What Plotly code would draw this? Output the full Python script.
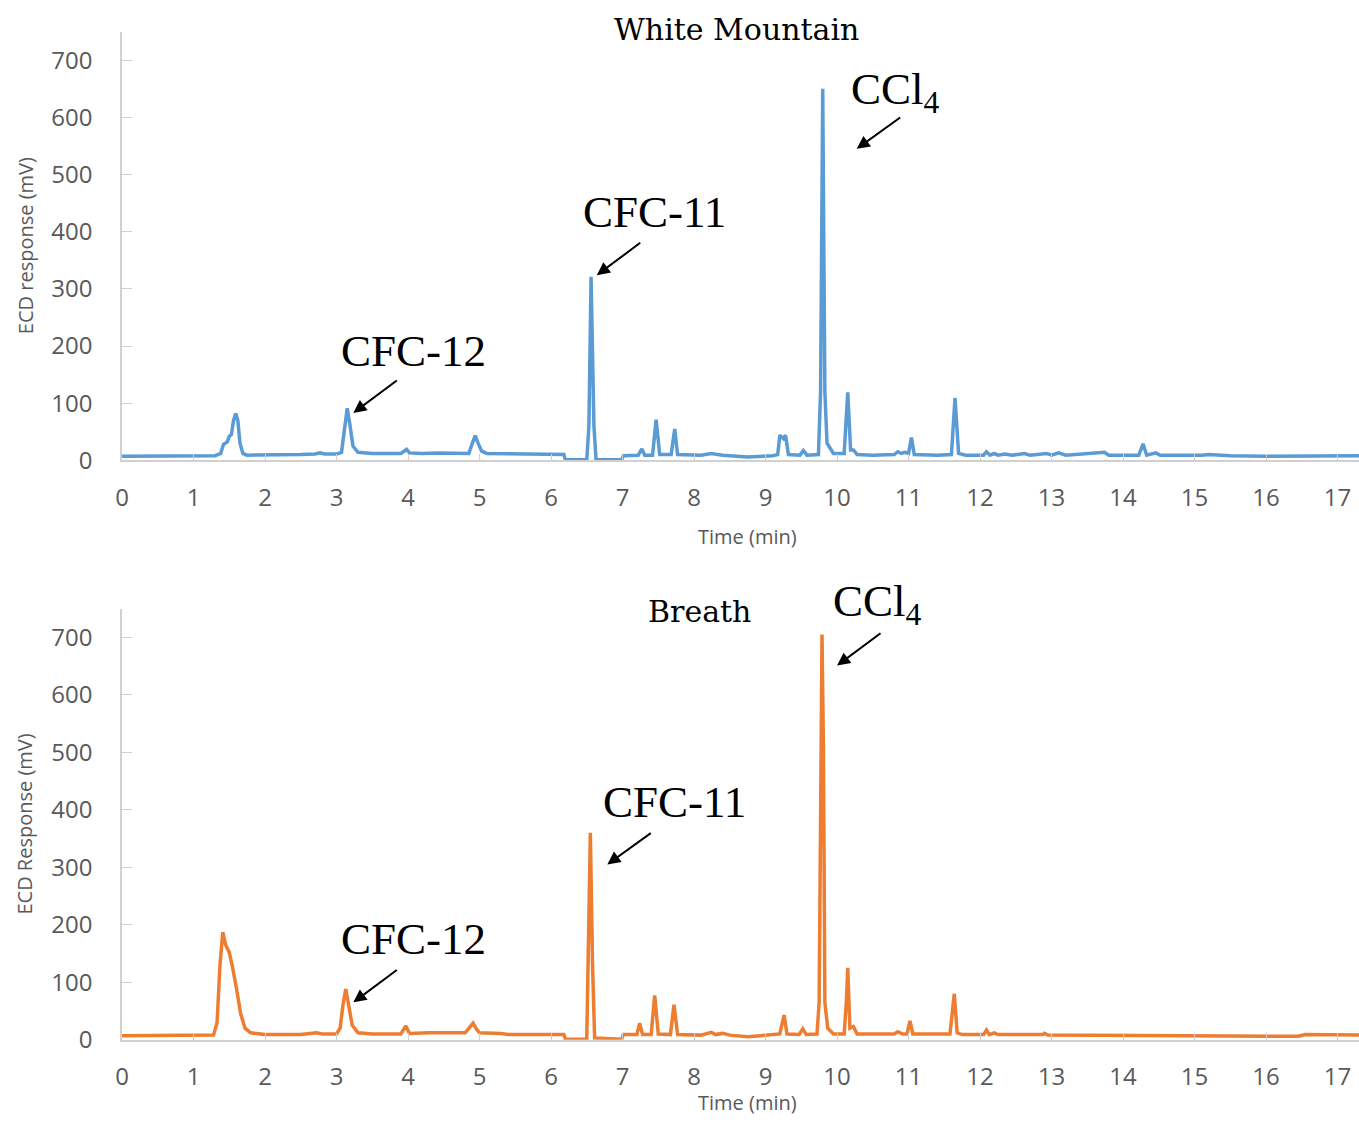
import plotly.graph_objects as go

# ---- White Mountain chromatogram (time in min, ECD response in mV) ----
wm_time = [0.00, 0.50, 1.00, 1.30, 1.38, 1.42, 1.47, 1.50, 1.53, 1.56, 1.59, 1.62, 1.65, 1.69, 1.75,
           2.00, 2.50, 2.70, 2.77, 2.83, 3.00, 3.07, 3.11, 3.15, 3.19, 3.23, 3.30, 3.50, 3.90, 3.95,
           3.98, 4.02, 4.20, 4.40, 4.60, 4.85, 4.90, 4.94, 4.98, 5.03, 5.10, 5.50, 6.00, 6.18, 6.20,
           6.50, 6.53, 6.56, 6.60, 6.63, 6.99, 7.01, 7.22, 7.27, 7.31, 7.42, 7.47, 7.52, 7.68, 7.73,
           7.77, 8.10, 8.24, 8.40, 8.75, 9.10, 9.17, 9.20, 9.25, 9.28, 9.32, 9.48, 9.53, 9.58, 9.74,
           9.77, 9.80, 9.83, 9.86, 9.95, 10.10, 10.15, 10.19, 10.23, 10.28, 10.50, 10.80, 10.85, 10.90, 10.95,
           11.00, 11.04, 11.08, 11.40, 11.60, 11.65, 11.70, 11.80, 12.05, 12.09, 12.14, 12.20, 12.25, 12.35, 12.45,
           12.62, 12.70, 12.93, 13.00, 13.10, 13.20, 13.74, 13.80, 14.22, 14.28, 14.33, 14.46, 14.52, 15.10, 15.20,
           15.50, 16.00, 17.30]
wm_resp = [7, 7, 7.5, 8, 12, 28, 32, 42, 45, 70, 82, 70, 30, 12, 9,
           9, 10, 11, 13, 11, 11, 14, 55, 91, 60, 25, 14, 12, 12, 16,
           19, 13, 12, 13, 12, 12, 30, 43, 30, 16, 12, 11, 10, 10, 1,
           1, 60, 321, 60, 1, 1, 8, 9, 20, 9, 9, 71, 10, 10, 55,
           10, 9, 12, 9, 6, 8, 10, 44, 38, 44, 10, 9, 17, 9, 10,
           120, 650, 120, 30, 12, 12, 119, 18, 18, 10, 9, 10, 15, 12, 14,
           12, 40, 10, 9, 10, 109, 12, 9, 9, 15, 9, 12, 9, 11, 9,
           12, 9, 12, 9, 13, 9, 14, 9, 9, 29, 9, 13, 9, 9, 10,
           8, 7, 8]

# ---- Breath chromatogram ----
br_time = [0.00, 1.00, 1.28, 1.33, 1.37, 1.41, 1.45, 1.50, 1.54, 1.60, 1.66, 1.72, 1.80, 2.00, 2.50,
           2.72, 2.80, 3.00, 3.05, 3.09, 3.13, 3.17, 3.22, 3.30, 3.50, 3.90, 3.97, 4.02, 4.30, 4.80,
           4.87, 4.91, 4.95, 5.00, 5.30, 5.40, 6.18, 6.20, 6.50, 6.52, 6.55, 6.58, 6.61, 6.99, 7.01,
           7.20, 7.24, 7.28, 7.40, 7.45, 7.50, 7.67, 7.72, 7.77, 8.10, 8.24, 8.30, 8.40, 8.50, 8.75,
           9.10, 9.20, 9.26, 9.30, 9.47, 9.52, 9.57, 9.72, 9.75, 9.77, 9.79, 9.81, 9.83, 9.87, 9.95,
           10.10, 10.13, 10.15, 10.18, 10.23, 10.28, 10.80, 10.85, 10.92, 10.98, 11.02, 11.06, 11.58, 11.62, 11.64,
           11.68, 11.75, 12.05, 12.09, 12.13, 12.20, 12.25, 12.88, 12.90, 12.95, 16.45, 16.55, 17.30]
br_resp = [7, 7, 8, 30, 130, 187, 165, 152, 130, 90, 45, 20, 12, 9, 9,
           12, 10, 10, 20, 60, 88, 60, 25, 12, 10, 10, 24, 11, 12, 12,
           22, 29, 20, 12, 11, 9, 9, 1, 1, 140, 360, 135, 3, 1, 9,
           9, 29, 9, 9, 77, 10, 9, 61, 9, 8, 13, 9, 11, 8, 5,
           8, 10, 43, 10, 9, 19, 9, 10, 65, 505, 705, 505, 65, 20, 10,
           10, 65, 125, 20, 23, 10, 10, 14, 10, 10, 33, 10, 10, 55, 80,
           12, 9, 9, 17, 9, 12, 9, 9, 11, 8, 6, 9, 8]

y_ticks = [0, 100, 200, 300, 400, 500, 600, 700]
x_ticks = list(range(0, 18))

BLUE = "#5B9BD5"
ORANGE = "#ED7D31"
AXIS_GRAY = "#D0D0D0"
TICK_TEXT = "#595959"

W, H = 1359, 1130
VS = 1146 / 1130  # vertical placement factor


def py(v):
    """paper y for a vertical pixel position"""
    return 1 - (v * VS) / H


def px(v):
    """paper x for a horizontal pixel position"""
    return (v - 122) / (W - 122)


fig = go.Figure()
fig.add_trace(go.Scatter(x=wm_time, y=wm_resp, mode="lines", line=dict(color=BLUE, width=3.5),
                         xaxis="x", yaxis="y", showlegend=False))
fig.add_trace(go.Scatter(x=br_time, y=br_resp, mode="lines", line=dict(color=ORANGE, width=3.5),
                         xaxis="x2", yaxis="y2", showlegend=False))

tick_font = dict(family="Open Sans, Noto Sans, sans-serif", size=24, color=TICK_TEXT)
xcommon = dict(range=[0, 17.3], tickvals=x_ticks, showgrid=False, zeroline=False,
               showline=True, linecolor=AXIS_GRAY, linewidth=1.5, ticks="inside", ticklen=7,
               tickcolor=AXIS_GRAY, tickfont=tick_font, ticklabelstandoff=15, domain=[0, 1])
ycommon = dict(range=[0, 750], tickvals=y_ticks, showgrid=False, zeroline=False,
               showline=True, linecolor=AXIS_GRAY, linewidth=1.5, ticks="inside", ticklen=10,
               tickcolor=AXIS_GRAY, tickfont=tick_font, ticklabelstandoff=23)

fig.update_layout(
    width=W, height=H,
    margin=dict(l=122, r=0, t=0, b=0),
    paper_bgcolor="white", plot_bgcolor="white",
    xaxis=dict(**xcommon, anchor="y"),
    yaxis=dict(**ycommon, domain=[py(460), py(31.7)], anchor="x"),
    xaxis2=dict(**xcommon, anchor="y2"),
    yaxis2=dict(**ycommon, domain=[py(1039), py(608.3)], anchor="x2"),
)

serif_big = dict(family="Liberation Serif, Times New Roman, serif", size=45, color="black")
serif_title = dict(family="DejaVu Serif, serif", size=30, color="black")
ax_title_font = dict(family="Open Sans, Noto Sans, sans-serif", size=20, color=TICK_TEXT)

ann = []
ann.append(dict(text="White Mountain", xref="paper", yref="paper", x=px(736), y=py(29),
                xanchor="center", yanchor="middle", showarrow=False, font=serif_title))
ann.append(dict(text="Breath", xref="paper", yref="paper", x=px(699), y=py(611),
                xanchor="center", yanchor="middle", showarrow=False, font=serif_title))
for yc, txt in [(246, "ECD response (mV)"), (824, "ECD Response (mV)")]:
    ann.append(dict(text=txt, xref="paper", yref="paper", x=px(25), y=py(yc),
                    xanchor="center", yanchor="middle", textangle=-90, showarrow=False, font=ax_title_font))
ann.append(dict(text="Time (min)", xref="paper", yref="paper", x=px(748), y=py(536),
                xanchor="center", yanchor="middle", showarrow=False, font=ax_title_font))
ann.append(dict(text="Time (min)", xref="paper", yref="paper", x=px(748), y=0, yshift=-3,
                xanchor="center", yanchor="bottom", showarrow=False, font=ax_title_font))

labels = [
    ("CFC-12", "x", "y", 4.07, 192),
    ("CFC-11", "x", "y", 7.45, 434),
    ("CCl<sub>4</sub>", "x", "y", 10.82, 645),
    ("CFC-12", "x2", "y2", 4.07, 176),
    ("CFC-11", "x2", "y2", 7.73, 413),
]
for txt, xr, yr, xv, yv in labels:
    ann.append(dict(text=txt, xref=xr, yref=yr, x=xv, y=yv, xanchor="center", yanchor="middle",
                    showarrow=False, font=serif_big))
ann.append(dict(text="CCl<sub>4</sub>", xref="paper", yref="paper", x=px(877.5), y=py(604),
                xanchor="center", yanchor="middle", showarrow=False, font=serif_big))

arrows = [
    ("x", "y", 3.235, 83, 45, -33),
    ("x", "y", 6.64, 324, 45, -33),
    ("x", "y", 10.275, 545, 45, -32),
    ("x2", "y2", 3.235, 65, 45, -33),
    ("x2", "y2", 6.787, 305, 45, -32),
    ("x2", "y2", 10.0, 651, 45, -33),
]
for xr, yr, xv, yv, axp, ayp in arrows:
    ann.append(dict(text="", xref=xr, yref=yr, x=xv, y=yv, ax=axp, ay=ayp * VS, showarrow=True,
                    arrowhead=2, arrowsize=1.3, arrowwidth=2, arrowcolor="black", standoff=0))

fig.update_layout(annotations=ann)

post = "document.documentElement.style.margin='0';document.body.style.margin='0';"
fig.write_html("out.html", config={"displayModeBar": False}, post_script=post)
